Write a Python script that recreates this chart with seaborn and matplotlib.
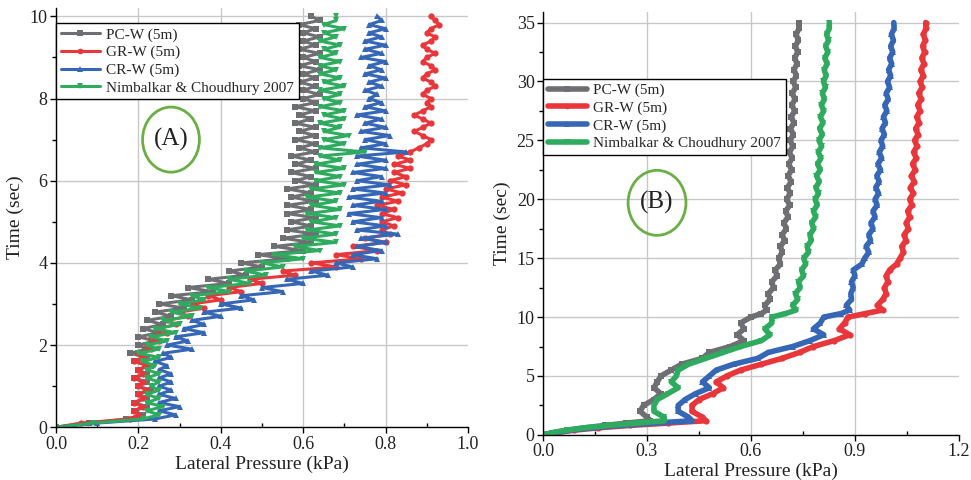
import matplotlib
matplotlib.use("Agg")
import matplotlib.pyplot as plt
from matplotlib.patches import Ellipse
import seaborn as sns
import pandas as pd

# ---------------- data: panel (A) ----------------
TIME_A = [0.0, 0.1, 0.2, 0.3, 0.4, 0.5, 0.6, 0.7, 0.8, 0.9,
          1.0, 1.1, 1.2, 1.3, 1.4, 1.5, 1.6, 1.7, 1.8, 1.9,
          2.0, 2.1, 2.2, 2.3, 2.4, 2.5, 2.6, 2.7, 2.8, 2.9,
          3.0, 3.1, 3.2, 3.3, 3.4, 3.5, 3.6, 3.7, 3.8, 3.9,
          4.0, 4.1, 4.2, 4.3, 4.4, 4.5, 4.6, 4.7, 4.8, 4.9,
          5.0, 5.1, 5.2, 5.3, 5.4, 5.5, 5.6, 5.7, 5.8, 5.9,
          6.0, 6.1, 6.2, 6.3, 6.4, 6.5, 6.6, 6.7, 6.8, 6.9,
          7.0, 7.1, 7.2, 7.3, 7.4, 7.5, 7.6, 7.7, 7.8, 7.9,
          8.0, 8.1, 8.2, 8.3, 8.4, 8.5, 8.6, 8.7, 8.8, 8.9,
          9.0, 9.1, 9.2, 9.3, 9.4, 9.5, 9.6, 9.7, 9.8, 9.9,
          10.0]

PC_A = [0.00, 0.08, 0.17, 0.21, 0.19, 0.22, 0.19, 0.22, 0.20, 0.23,
        0.20, 0.22, 0.19, 0.22, 0.20, 0.23, 0.19, 0.22, 0.18, 0.22,
        0.20, 0.24, 0.20, 0.25, 0.21, 0.26, 0.22, 0.28, 0.24, 0.31,
        0.25, 0.33, 0.28, 0.38, 0.32, 0.42, 0.37, 0.46, 0.42, 0.50,
        0.45, 0.56, 0.49, 0.60, 0.53, 0.62, 0.55, 0.63, 0.56, 0.62,
        0.57, 0.63, 0.56, 0.62, 0.56, 0.63, 0.57, 0.62, 0.56, 0.63,
        0.58, 0.62, 0.57, 0.63, 0.58, 0.62, 0.57, 0.63, 0.59, 0.63,
        0.58, 0.63, 0.59, 0.63, 0.58, 0.62, 0.59, 0.63, 0.58, 0.63,
        0.60, 0.64, 0.60, 0.63, 0.59, 0.63, 0.60, 0.64, 0.59, 0.63,
        0.60, 0.64, 0.59, 0.63, 0.60, 0.64, 0.60, 0.63, 0.59, 0.64,
        0.62]

GR_A = [0.00, 0.06, 0.18, 0.20, 0.19, 0.21, 0.19, 0.21, 0.20, 0.22,
        0.20, 0.21, 0.19, 0.21, 0.20, 0.22, 0.19, 0.21, 0.20, 0.23,
        0.22, 0.25, 0.23, 0.27, 0.25, 0.29, 0.27, 0.32, 0.30, 0.36,
        0.33, 0.40, 0.37, 0.45, 0.42, 0.50, 0.47, 0.58, 0.55, 0.68,
        0.62, 0.74, 0.68, 0.78, 0.72, 0.80, 0.75, 0.81, 0.79, 0.82,
        0.79, 0.83, 0.79, 0.82, 0.78, 0.83, 0.79, 0.84, 0.80, 0.85,
        0.81, 0.85, 0.82, 0.86, 0.82, 0.86, 0.83, 0.86, 0.88, 0.90,
        0.91, 0.89, 0.87, 0.89, 0.91, 0.89, 0.87, 0.89, 0.91, 0.90,
        0.91, 0.89, 0.90, 0.92, 0.91, 0.89, 0.90, 0.92, 0.91, 0.89,
        0.90, 0.92, 0.90, 0.89, 0.91, 0.92, 0.90, 0.91, 0.93, 0.92,
        0.91]

CR_A = [0.00, 0.10, 0.24, 0.29, 0.25, 0.30, 0.25, 0.29, 0.25, 0.28,
        0.25, 0.28, 0.25, 0.28, 0.25, 0.27, 0.24, 0.28, 0.26, 0.33,
        0.27, 0.32, 0.29, 0.36, 0.31, 0.36, 0.33, 0.40, 0.36, 0.45,
        0.40, 0.48, 0.45, 0.55, 0.50, 0.60, 0.56, 0.66, 0.62, 0.72,
        0.68, 0.78, 0.72, 0.79, 0.73, 0.80, 0.74, 0.83, 0.73, 0.80,
        0.72, 0.79, 0.71, 0.80, 0.72, 0.79, 0.71, 0.80, 0.72, 0.81,
        0.73, 0.79, 0.72, 0.80, 0.73, 0.80, 0.73, 0.85, 0.74, 0.80,
        0.75, 0.81, 0.74, 0.80, 0.75, 0.79, 0.73, 0.80, 0.75, 0.79,
        0.76, 0.78, 0.75, 0.79, 0.76, 0.80, 0.75, 0.79, 0.76, 0.80,
        0.74, 0.79, 0.75, 0.80, 0.75, 0.79, 0.76, 0.80, 0.76, 0.79,
        0.78]

NC_A = [0.00, 0.09, 0.21, 0.25, 0.22, 0.26, 0.22, 0.25, 0.22, 0.25,
        0.23, 0.25, 0.22, 0.25, 0.22, 0.24, 0.21, 0.25, 0.20, 0.25,
        0.22, 0.27, 0.23, 0.29, 0.24, 0.30, 0.26, 0.33, 0.28, 0.35,
        0.30, 0.36, 0.33, 0.42, 0.37, 0.47, 0.42, 0.51, 0.46, 0.55,
        0.50, 0.60, 0.53, 0.64, 0.58, 0.68, 0.60, 0.68, 0.61, 0.69,
        0.62, 0.68, 0.61, 0.69, 0.62, 0.68, 0.61, 0.69, 0.62, 0.70,
        0.63, 0.69, 0.63, 0.70, 0.63, 0.69, 0.64, 0.75, 0.64, 0.70,
        0.65, 0.71, 0.65, 0.69, 0.64, 0.70, 0.65, 0.70, 0.64, 0.69,
        0.65, 0.69, 0.64, 0.70, 0.65, 0.69, 0.64, 0.68, 0.64, 0.69,
        0.64, 0.68, 0.65, 0.69, 0.64, 0.68, 0.65, 0.70, 0.65, 0.68,
        0.68]

# ---------------- data: panel (B) ----------------
TIME_B = [0.0, 0.2, 0.4, 0.6, 0.8, 1.0, 1.2, 1.5, 2.0, 2.5,
          3.0, 3.5, 4.0, 4.5, 5.0, 5.5, 6.0, 6.5, 7.0, 7.5,
          8.0, 8.5, 9.0, 9.5, 10.0, 10.3, 10.6,
          11.0, 11.5, 12.0, 12.5, 13.0, 13.5, 14.0, 14.5, 15.0, 15.5,
          16.0, 16.5, 17.0, 17.5, 18.0, 18.5, 19.0, 19.5, 20.0, 20.5,
          21.0, 21.5, 22.0, 22.5, 23.0, 23.5, 24.0, 24.5, 25.0, 25.5,
          26.0, 26.5, 27.0, 27.5, 28.0, 28.5, 29.0, 29.5, 30.0, 30.5,
          31.0, 31.5, 32.0, 32.5, 33.0, 33.5, 34.0, 34.5, 35.0]

PC_B = [0.00, 0.03, 0.07, 0.12, 0.18, 0.24, 0.31, 0.30, 0.28, 0.29,
        0.32, 0.34, 0.32, 0.33, 0.34, 0.37, 0.40, 0.46, 0.48, 0.54,
        0.58, 0.56, 0.58, 0.57, 0.60, 0.63, 0.645,
        0.640, 0.655, 0.650, 0.665, 0.660, 0.675, 0.670, 0.685, 0.680, 0.690,
        0.685, 0.697, 0.690, 0.702, 0.695, 0.707, 0.700, 0.712, 0.703, 0.713,
        0.705, 0.716, 0.707, 0.717, 0.709, 0.719, 0.711, 0.721, 0.713, 0.722,
        0.714, 0.724, 0.716, 0.726, 0.718, 0.727, 0.719, 0.729, 0.722, 0.731,
        0.724, 0.733, 0.726, 0.735, 0.728, 0.737, 0.730, 0.739, 0.738]

GR_B = [0.00, 0.04, 0.09, 0.16, 0.25, 0.36, 0.47, 0.46, 0.43, 0.43,
        0.45, 0.49, 0.52, 0.50, 0.53, 0.57, 0.63, 0.69, 0.74, 0.78,
        0.84, 0.885, 0.855, 0.87, 0.88, 0.93, 0.98,
        0.965, 0.980, 0.990, 0.985, 0.995, 0.990, 1.000, 1.020, 1.030, 1.040,
        1.035, 1.047, 1.042, 1.054, 1.048, 1.058, 1.052, 1.064, 1.058, 1.068,
        1.060, 1.071, 1.063, 1.074, 1.066, 1.077, 1.069, 1.079, 1.072, 1.082,
        1.075, 1.085, 1.078, 1.088, 1.081, 1.091, 1.084, 1.094, 1.088, 1.097,
        1.090, 1.099, 1.093, 1.101, 1.095, 1.103, 1.097, 1.105, 1.104]

CR_B = [0.00, 0.04, 0.08, 0.14, 0.22, 0.32, 0.43, 0.42, 0.39, 0.39,
        0.41, 0.44, 0.48, 0.46, 0.48, 0.50, 0.55, 0.62, 0.65, 0.72,
        0.77, 0.81, 0.78, 0.80, 0.81, 0.86, 0.885,
        0.875, 0.890, 0.888, 0.895, 0.890, 0.900, 0.895, 0.920, 0.928, 0.940,
        0.932, 0.945, 0.940, 0.952, 0.946, 0.958, 0.952, 0.964, 0.958, 0.968,
        0.960, 0.970, 0.963, 0.974, 0.966, 0.977, 0.970, 0.980, 0.975, 0.985,
        0.978, 0.988, 0.982, 0.992, 0.986, 0.996, 0.990, 1.000, 0.994, 1.003,
        0.997, 1.006, 1.000, 1.009, 1.003, 1.011, 1.005, 1.013, 1.012]

NC_B = [0.00, 0.03, 0.07, 0.12, 0.19, 0.27, 0.35, 0.35, 0.32, 0.32,
        0.33, 0.36, 0.39, 0.37, 0.385, 0.39, 0.42, 0.47, 0.52, 0.57,
        0.63, 0.655, 0.64, 0.66, 0.66, 0.70, 0.73,
        0.720, 0.735, 0.728, 0.742, 0.737, 0.752, 0.746, 0.758, 0.752, 0.766,
        0.762, 0.774, 0.770, 0.781, 0.775, 0.787, 0.780, 0.791, 0.785, 0.795,
        0.787, 0.797, 0.789, 0.800, 0.792, 0.802, 0.794, 0.804, 0.796, 0.806,
        0.798, 0.808, 0.800, 0.810, 0.803, 0.812, 0.806, 0.815, 0.809, 0.817,
        0.811, 0.820, 0.813, 0.822, 0.815, 0.824, 0.818, 0.826, 0.826]

SERIES = ["PC-W (5m)", "GR-W (5m)", "CR-W (5m)", "Nimbalkar & Choudhury 2007"]
COLORS = ["#6e6f72", "#e8363b", "#3667b7", "#2eab5f"]
MARKERS = ["s", "o", "^", "v"]

X_TICKS_A = [0.0, 0.2, 0.4, 0.6, 0.8, 1.0]
Y_TICKS_A = [0, 2, 4, 6, 8, 10]
X_TICKS_B = [0.0, 0.3, 0.6, 0.9, 1.2]
Y_TICKS_B = [0, 5, 10, 15, 20, 25, 30, 35]

# ---------------- style ----------------
sns.set_theme(style="white")
plt.rcParams["font.family"] = ["Liberation Serif", "DejaVu Serif"]
plt.rcParams["mathtext.fontset"] = "stix"

fig = plt.figure(figsize=(9.71, 4.80), dpi=100)
axA = fig.add_axes([0.0577, 0.110, 0.4243, 0.873])
axB = fig.add_axes([0.5592, 0.094, 0.4284, 0.881])


def draw_panel(ax, times, values, lw, ms):
    for name, vals, col, mk in zip(SERIES, values, COLORS, MARKERS):
        df = pd.DataFrame({"time": times, "pressure": vals})
        sns.lineplot(data=df, x="pressure", y="time", sort=False,
                     estimator=None, color=col, marker=mk, markersize=ms,
                     markeredgewidth=0, linewidth=lw, label=name, ax=ax)


draw_panel(axA, TIME_A, [PC_A, GR_A, CR_A, NC_A], lw=2.2, ms=4.5)
draw_panel(axB, TIME_B, [PC_B, GR_B, CR_B, NC_B], lw=4.0, ms=4.5)


def style_axis(ax, xticks, yticks, xlim, ylim, xminor, yminor, leg_y):
    ax.set_xlim(*xlim)
    ax.set_ylim(*ylim)
    ax.set_xticks(xticks)
    ax.set_yticks(yticks)
    ax.set_xticks(xminor, minor=True)
    ax.set_yticks(yminor, minor=True)
    ax.set_xticklabels([f"{t:.1f}" for t in xticks])
    ax.set_yticklabels([f"{t:g}" for t in yticks])
    ax.grid(True, which="major", color="#c8c8c8", linewidth=1.0)
    ax.set_axisbelow(True)
    for side in ["top", "right"]:
        ax.spines[side].set_visible(False)
    for side in ["left", "bottom"]:
        ax.spines[side].set_color("black")
        ax.spines[side].set_linewidth(1.0)
    ax.get_xgridlines()[-1].set_visible(False)
    ax.tick_params(axis="both", which="major", direction="out", length=4,
                   width=1, color="black", labelsize=13, pad=2,
                   bottom=True, left=True, labelcolor="#222222")
    ax.tick_params(axis="x", which="minor", direction="in", length=3,
                   width=1, color="black", bottom=True)
    ax.tick_params(axis="y", which="minor", direction="out", length=3,
                   width=1, color="black", left=True)
    ax.set_xlabel("Lateral Pressure (kPa)", fontsize=14, labelpad=2,
                  color="#222222")
    ax.set_ylabel("Time (sec)", fontsize=14, labelpad=4, color="#222222")
    leg = ax.legend(loc="upper left", bbox_to_anchor=(0.0, leg_y),
                    borderaxespad=0.0, frameon=True, fancybox=False,
                    fontsize=11, handlelength=2.6, handletextpad=0.4,
                    borderpad=0.3, labelspacing=0.25, markerscale=0.9)
    leg.get_frame().set_edgecolor("black")
    leg.get_frame().set_linewidth(1.0)
    leg.get_frame().set_alpha(1.0)


style_axis(axA, X_TICKS_A, Y_TICKS_A, (0.0, 1.0), (0.0, 10.2),
           [0.1, 0.3, 0.5, 0.7, 0.9], [1, 3, 5, 7, 9], 0.964)
style_axis(axB, X_TICKS_B, Y_TICKS_B, (0.0, 1.2), (0.0, 35.9),
           [0.15, 0.45, 0.75, 1.05],
           [2.5, 7.5, 12.5, 17.5, 22.5, 27.5, 32.5], 0.842)

# panel labels in green ellipses
axA.add_patch(Ellipse((0.279, 7.0), 0.138, 1.585, fill=False,
                      edgecolor="#6aaf45", linewidth=2.0, zorder=5))
axA.text(0.279, 7.0, "(A)", ha="center", va="center", fontsize=18,
         color="#222222", zorder=6)
axB.add_patch(Ellipse((0.329, 19.7), 0.167, 5.52, fill=False,
                      edgecolor="#6aaf45", linewidth=2.0, zorder=5))
axB.text(0.329, 19.7, "(B)", ha="center", va="center", fontsize=18,
         color="#222222", zorder=6)

fig.savefig("out.png", dpi=100)
